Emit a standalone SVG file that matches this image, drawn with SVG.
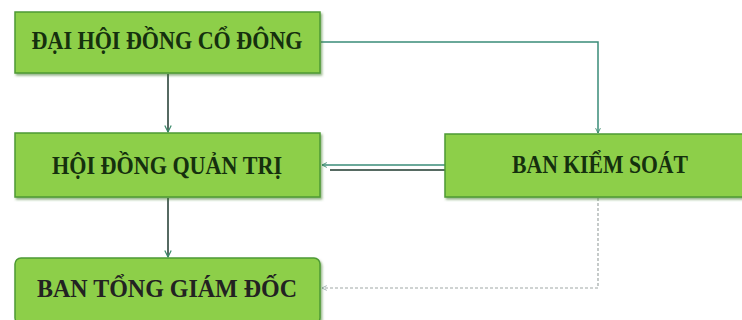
<svg xmlns="http://www.w3.org/2000/svg" width="742" height="320" viewBox="0 0 742 320">
  <defs>
    <filter id="sh" x="-10%" y="-20%" width="120%" height="150%">
      <feDropShadow dx="1.5" dy="2" stdDeviation="1.2" flood-color="#3f7a2a" flood-opacity="0.55"/>
    </filter>
    <marker id="ah" viewBox="0 0 10 10" refX="9" refY="5" markerWidth="4" markerHeight="4" orient="auto">
      <path d="M1,1 L9,5 L1,9" fill="none" stroke="#3a8a6a" stroke-width="1.5"/>
    </marker>
    <marker id="ahg" viewBox="0 0 10 10" refX="9" refY="5" markerWidth="5" markerHeight="5" orient="auto">
      <path d="M1,1 L9,5 L1,9" fill="none" stroke="#9aa" stroke-width="1.5"/>
    </marker>
  </defs>
  <style>
    .box { fill: #8DCF48; stroke: #4E9A34; stroke-width: 1.5; filter: url(#sh); }
    .t { font-family: "Liberation Serif", "Times New Roman", serif; font-weight: bold; font-size: 25px; fill: #15300e; text-anchor: middle; }
    .t3 { fill: #222; }
    .c1 { fill: none; stroke: #566a62; stroke-width: 2; }
    .c2 { fill: none; stroke: #3a8c78; stroke-width: 1.5; }
    .c3 { fill: none; stroke: #a0a8a6; stroke-width: 1.2; stroke-dasharray: 3 2; }
  </style>
  <rect width="742" height="320" fill="#ffffff"/>
  <g id="connectors">
    <path class="c1" d="M168,74 V132" marker-end="url(#ah)"/>
    <path class="c1" d="M168,198 V257" marker-end="url(#ah)"/>
    <path class="c2" d="M321,42 H598 V133" marker-end="url(#ah)"/>
    <path class="c2" d="M445,165 H322" marker-end="url(#ah)"/>
    <path class="c1" d="M452,170 H330"/>
    <path class="c3" d="M598,198 V288 H322" marker-end="url(#ahg)"/>
  </g>
  <g id="n1">
    <rect class="box" x="15" y="12" width="305" height="61"/>
    <text class="t" x="167" y="49" textLength="271" lengthAdjust="spacingAndGlyphs">ĐẠI HỘI ĐỒNG CỔ ĐÔNG</text>
  </g>
  <g id="n2">
    <rect class="box" x="15" y="133" width="305" height="64"/>
    <text class="t" x="167" y="174" textLength="230" lengthAdjust="spacingAndGlyphs">HỘI ĐỒNG QUẢN TRỊ</text>
  </g>
  <g id="n3">
    <rect class="box" x="15" y="258" width="305" height="66" rx="6"/>
    <text class="t t3" x="167" y="297" textLength="260" lengthAdjust="spacingAndGlyphs">BAN TỔNG GIÁM ĐỐC</text>
  </g>
  <g id="n4">
    <rect class="box" x="445" y="134" width="310" height="63"/>
    <text class="t" x="600" y="173" textLength="176" lengthAdjust="spacingAndGlyphs">BAN KIỂM SOÁT</text>
  </g>
</svg>
